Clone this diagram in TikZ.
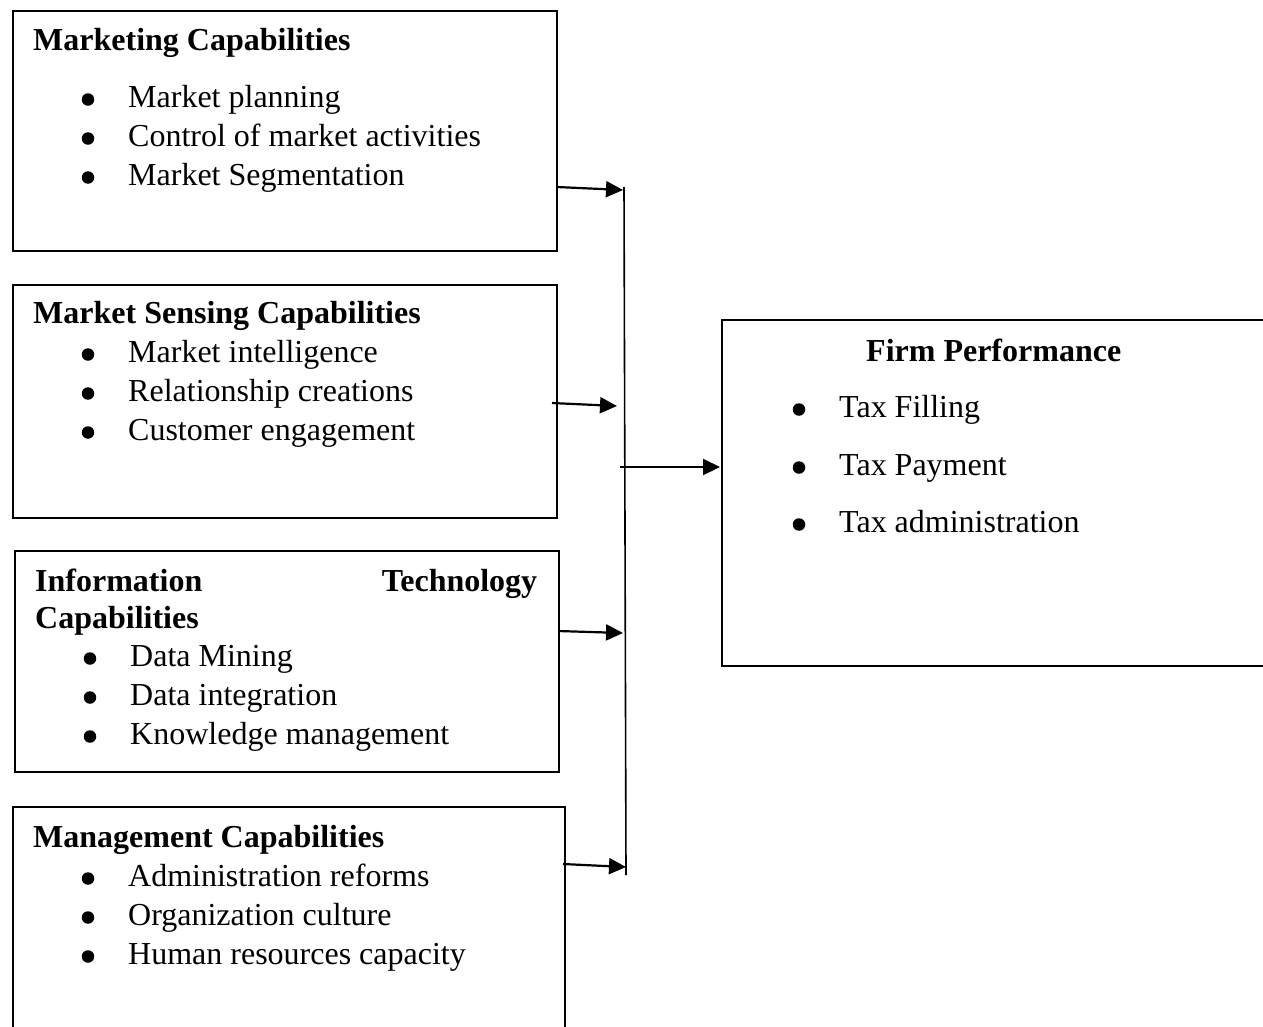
\documentclass[tikz,border=0pt]{standalone}
\usepackage{fontspec}
\setmainfont{Liberation Serif}
\usetikzlibrary{arrows.meta}
\tikzset{
 box/.style={draw, line width=2pt, inner sep=0pt, anchor=north west},
 txt/.style={anchor=base west, inner sep=0pt, font=\fontsize{32}{38}\selectfont},
 ttl/.style={anchor=base west, inner sep=0pt, font=\fontsize{32}{38}\selectfont\bfseries},
 bul/.style={circle, fill=black, inner sep=0pt, minimum size=12.5pt},
 conn/.style={line width=2.2pt, -{Triangle[length=17pt,width=16pt]}},
 vline/.style={line width=1.6pt}
}
\newcommand\bitem[4]{\node[bul] (#1b) at (#2-40,#3-7.5) {}; \node[txt] (#1) at (#2,#3) {#4};}
\begin{document}
\begin{tikzpicture}[x=1pt,y=-1pt]
\useasboundingbox (0,0) rectangle (1263,1026);
\clip (0,0) rectangle (1263,1026);
\fill[white] (0,0) rectangle (1263,1026);
% boxes
\node[box, minimum width=544pt, minimum height=240pt] (b1) at (12,10) {};
\node[box, minimum width=544pt, minimum height=233pt] (b2) at (12,284) {};
\node[box, minimum width=544pt, minimum height=221pt] (b3) at (14,550) {};
\node[box, minimum width=552pt, minimum height=300pt] (b4) at (12,806) {};
\node[box, minimum width=600pt, minimum height=346pt] (f) at (721,319) {};
% box 1
\node[ttl] (t1) at (33,50) {Marketing Capabilities};
\bitem{i11}{128}{107}{Market planning}
\bitem{i12}{128}{146}{Control of market activities}
\bitem{i13}{128}{185}{Market Segmentation}
% box 2
\node[ttl] (t2) at (33,323) {Market Sensing Capabilities};
\bitem{i21}{128}{362}{Market intelligence}
\bitem{i22}{128}{401}{Relationship creations}
\bitem{i23}{128}{440}{Customer engagement}
% box 3
\node[ttl] (t3) at (35,591) {\hbox to 502pt{Information\hfill Technology}};
\node[ttl] (t3b) at (35,628) {Capabilities};
\bitem{i31}{130}{666}{Data Mining}
\bitem{i32}{130}{705}{Data integration}
\bitem{i33}{130}{744}{Knowledge management}
% box 4
\node[ttl] (t4) at (33,847) {Management Capabilities};
\bitem{i41}{128}{886}{Administration reforms}
\bitem{i42}{128}{925}{Organization culture}
\bitem{i43}{128}{964}{Human resources capacity}
% firm
\node[ttl] (tf) at (866,361) {Firm Performance};
\bitem{f1}{839}{417}{Tax Filling}
\bitem{f2}{839}{475}{Tax Payment}
\bitem{f3}{839}{532}{Tax administration}
% connectors
\coordinate (a1s) at (557,187); \coordinate (a1e) at (623,190);
\coordinate (a2s) at (552,403); \coordinate (a2e) at (617,406);
\coordinate (a3s) at (558,631); \coordinate (a3e) at (623,633);
\coordinate (a4s) at (563,864); \coordinate (a4e) at (626,867);
\coordinate (a5s) at (620,467); \coordinate (a5e) at (720,467);
\coordinate (bt) at (624,187); \coordinate (bb) at (626,875);
\draw[vline] (bt) -- (bb);
\draw[conn] (a1s) -- (a1e);
\draw[conn] (a2s) -- (a2e);
\draw[conn] (a3s) -- (a3e);
\draw[conn] (a4s) -- (a4e);
\draw[conn] (a5s) -- (a5e);
\end{tikzpicture}
\end{document}
